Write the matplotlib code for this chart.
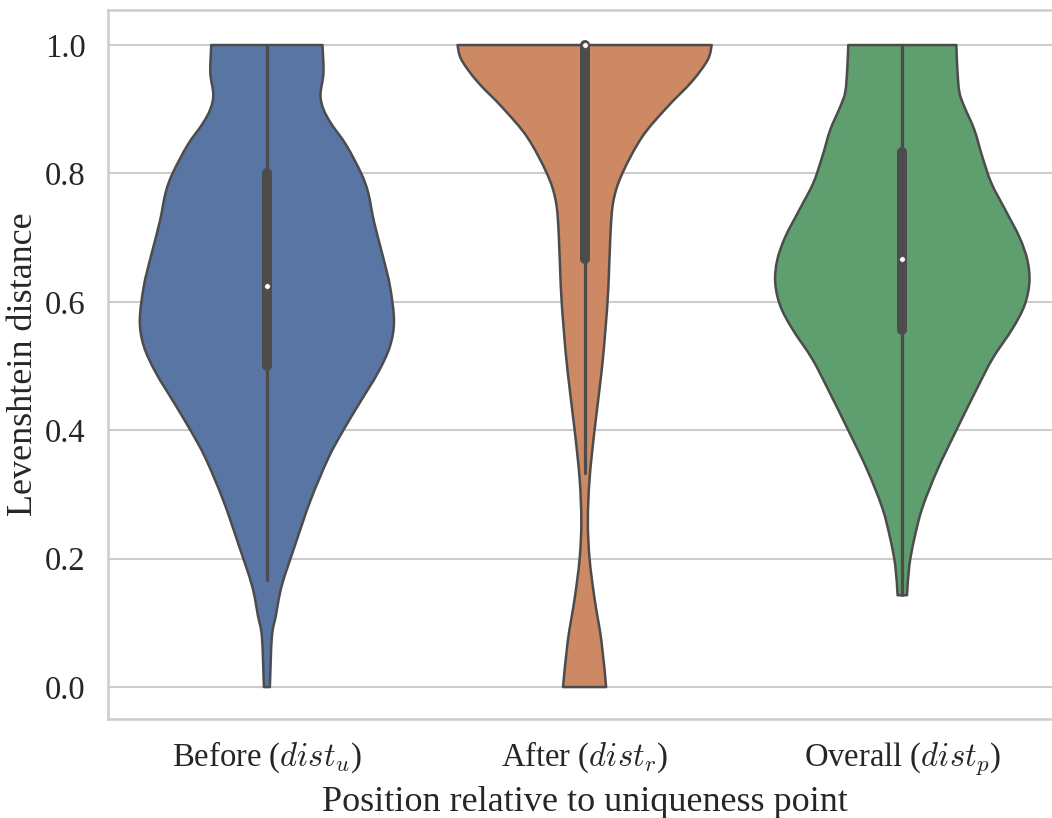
import numpy as np
import matplotlib
matplotlib.use("Agg")
import matplotlib.pyplot as plt
from matplotlib.path import Path
from matplotlib.patches import PathPatch
import colorsys

# ---------------- data ----------------
categories = [r"Before ($dist_u$)", r"After ($dist_r$)", r"Overall ($dist_p$)"]

before_y = [1.0, 0.957, 0.923, 0.90, 0.877, 0.844, 0.80, 0.77, 0.724, 0.67, 0.624,
            0.571, 0.531, 0.49, 0.444, 0.40, 0.357, 0.291, 0.224, 0.158, 0.111, 0.078, 0.0]
before_density = [56, 57, 54, 57, 65, 80, 95, 102, 108, 117, 124,
                  128, 124, 112, 94, 77, 62, 44, 29, 15, 9, 5, 3]

after_y = [1.0, 0.977, 0.943, 0.903, 0.857, 0.8, 0.757, 0.704, 0.624, 0.557, 0.49,
           0.4, 0.324, 0.258, 0.2, 0.138, 0.071, 0.0]
after_density = [128, 124, 108, 83, 58, 38, 29, 26, 24, 21, 17,
                 10, 5, 3.3, 5, 10, 17, 21.7]

overall_y = [1.0, 0.963, 0.927, 0.904, 0.868, 0.826, 0.785, 0.743, 0.701, 0.665, 0.63,
             0.594, 0.558, 0.511, 0.463, 0.4, 0.338, 0.279, 0.231, 0.189, 0.143]
overall_density = [54, 55, 57, 62, 72, 80, 89, 103, 117, 125, 127,
                   122, 110, 90, 74, 54, 35, 20, 12, 7, 4.7]

q1 = [0.5, 0.667, 0.556]
median = [0.625, 1.0, 0.667]
q3 = [0.8, 1.0, 0.833]
whisker_low = [0.167, 0.333, 0.143]
whisker_high = [1.0, 1.0, 1.0]

base_colors = ["#4C72B0", "#DD8452", "#55A868"]


def desaturate(hexcol, prop=0.75):
    r, g, b = matplotlib.colors.to_rgb(hexcol)
    h, l, s = colorsys.rgb_to_hls(r, g, b)
    return colorsys.hls_to_rgb(h, l, s * prop)


def smooth_segments(pts):
    """Catmull-Rom curve through the given points, as cubic Bezier path pieces."""
    pts = np.asarray(pts, dtype=float)
    n = len(pts)
    verts, codes = [], []
    for k in range(n - 1):
        p0 = pts[k - 1] if k > 0 else pts[k]
        p1 = pts[k]
        p2 = pts[k + 1]
        p3 = pts[k + 2] if k + 2 < n else pts[k + 1]
        c1 = p1 + (p2 - p0) / 6.0
        c2 = p2 - (p3 - p1) / 6.0
        verts += [tuple(c1), tuple(c2), tuple(p2)]
        codes += [Path.CURVE4] * 3
    return verts, codes


# ---------------- style ----------------
plt.rcParams["font.family"] = ["Liberation Serif", "DejaVu Serif"]
plt.rcParams["mathtext.fontset"] = "cm"
plt.rcParams["font.size"] = 24

fig = plt.figure(figsize=(10.52, 8.18), dpi=100)
ax = fig.add_axes([0.1027, 0.121, 0.906, 0.8667])

ax.set_facecolor("white")
ax.grid(axis="y", color="#cccccc", linewidth=1.5, zorder=0)
ax.grid(axis="x", visible=False)
ax.set_axisbelow(True)
for side in ["left", "bottom", "top", "right"]:
    ax.spines[side].set_color("#cccccc")
    ax.spines[side].set_linewidth(1.8)

edge = "#4c4c4c"
profiles = [(before_y, before_density), (after_y, after_density), (overall_y, overall_density)]
half_width = 0.4
for i, (ys, dens) in enumerate(profiles):
    ys = np.asarray(ys, dtype=float)
    d = np.asarray(dens, dtype=float)
    hw = d / d.max() * half_width
    right = np.column_stack([i + hw, ys])            # top -> bottom
    left = np.column_stack([i - hw, ys])[::-1]       # bottom -> top
    verts = [tuple(right[0])]
    codes = [Path.MOVETO]
    v, c = smooth_segments(right)
    verts += v; codes += c
    verts.append(tuple(left[0])); codes.append(Path.LINETO)
    v, c = smooth_segments(left)
    verts += v; codes += c
    verts.append(tuple(right[0])); codes.append(Path.CLOSEPOLY)
    patch = PathPatch(Path(verts, codes), facecolor=desaturate(base_colors[i]),
                      edgecolor=edge, linewidth=1.8, zorder=2, joinstyle="round")
    ax.add_patch(patch)
    # whisker
    ax.plot([i, i], [whisker_low[i], whisker_high[i]], color=edge, linewidth=2.3,
            solid_capstyle="round", zorder=3)
    # box
    ax.plot([i, i], [q1[i], q3[i]], color=edge, linewidth=7.2,
            solid_capstyle="round", zorder=4)
    # median
    ax.plot([i], [median[i]], marker="o", markersize=4.2, markerfacecolor="white",
            markeredgecolor=edge, markeredgewidth=0.6, zorder=5)

ax.set_xlim(-0.5, 2.5)
ax.set_ylim(-0.0498, 1.0545)
ax.set_xticks(range(len(categories)))
ax.set_xticklabels(categories)
ax.set_yticks([0.0, 0.2, 0.4, 0.6, 0.8, 1.0])
ax.set_yticklabels(["0.0", "0.2", "0.4", "0.6", "0.8", "1.0"])
ax.tick_params(axis="both", length=0, labelsize=23.5, labelcolor="#262626")
ax.tick_params(axis="y", pad=16)
ax.tick_params(axis="x", pad=15)

ax.set_ylabel("Levenshtein distance", fontsize=26, color="#262626")
ax.set_xlabel("Position relative to uniqueness point", fontsize=26, color="#262626")
ax.yaxis.set_label_coords(-0.071, 0.5)
ax.xaxis.set_label_coords(0.5, -0.094)

fig.savefig("out.png", dpi=100, facecolor="white")
